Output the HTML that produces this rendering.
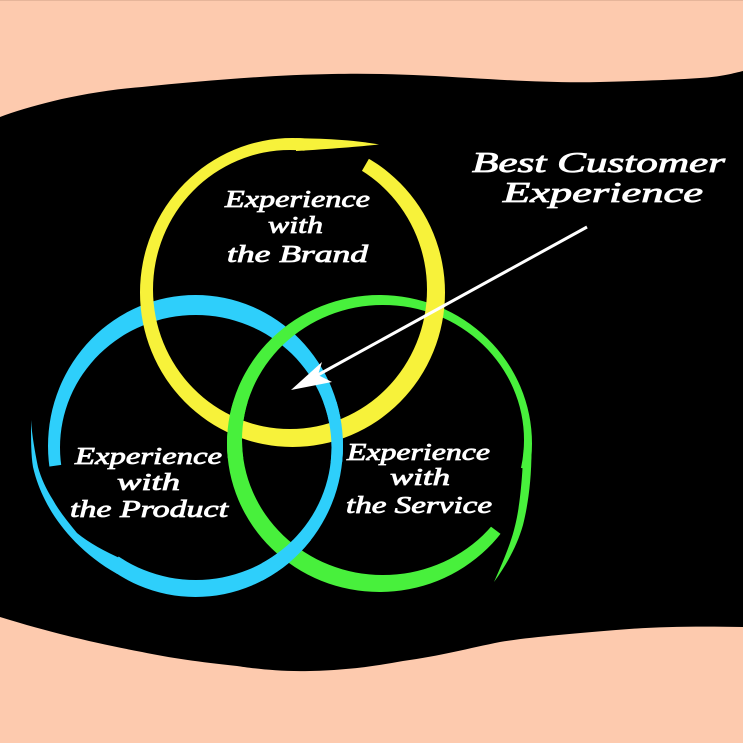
<!DOCTYPE html>
<html><head><meta charset="utf-8"><style>
html,body{margin:0;padding:0;background:#FDCAAE;}
svg{display:block;}
text{font-family:"Liberation Serif",serif;font-style:italic;fill:#fff;stroke:#fff;stroke-width:0.8;}
</style></head><body>
<svg width="743" height="743" viewBox="0 0 743 743" xmlns="http://www.w3.org/2000/svg">
<defs>
  <clipPath id="cGap"><polygon points="196,446 -51.6,480.8 -100,-100 800,-100 800,800 52.6,650.8"/></clipPath>
  <clipPath id="yGap"><polygon points="292,292 326.9,-106.5 -100,-107 -100,900 900,900 900,-54.4 492,-54.4"/></clipPath>
  <clipPath id="gGap"><polygon points="380,443 773.9,512.5 1000,512.5 1000,-200 -200,-200 -200,1000 1000,1000 699.4,683.7"/></clipPath>
  <clipPath id="r1"><rect x="318" y="402" width="36" height="60"/></clipPath>
  <clipPath id="r2"><rect x="262" y="540" width="50" height="58"/></clipPath>
  <clipPath id="r3"><rect x="216" y="402" width="42" height="56"/></clipPath>

  <g id="cyan">
    <path clip-path="url(#cGap)" fill="#2ECFFB" fill-rule="evenodd" d="M48,446 A147.5,151 0 1,0 343,446 A147.5,151 0 1,0 48,446 Z M60,447.5 A135.75,132.5 0 1,0 331.5,447.5 A135.75,132.5 0 1,0 60,447.5 Z"/>
    <path fill="#2ECFFB" d="M31,420 C31,440 31,455 33,467 C36,480 40,490 45,500 C57,524 80,553 117.3,574 L123.8,559.9 C104,551 89,543 77,533 C68,522 59,511 53,500 C46,489 41,478 38,467 C35,452 32,436 31,420 Z"/>
  </g>
  <g id="green">
    <path clip-path="url(#gGap)" fill="#48F03C" fill-rule="evenodd" d="M227,443.5 A152.5,148.5 0 1,0 532,443.5 A152.5,148.5 0 1,0 227,443.5 Z M242,440 A141,135 0 1,0 524,440 A141,135 0 1,0 242,440 Z"/>
    <path fill="#48F03C" d="M531.5,450 C531.5,480 528,505 523,525 C517,546 507,564 494,582 C503,562 510,545 514,530 C518,515 521.5,495 523.5,450 Z"/>
  </g>
  <g id="yellow">
    <path clip-path="url(#yGap)" fill="#F7F23A" fill-rule="evenodd" d="M140,292.5 A152.5,154.5 0 1,0 445,292.5 A152.5,154.5 0 1,0 140,292.5 Z M153,289.5 A137,139.5 0 1,0 427,289.5 A137,139.5 0 1,0 153,289.5 Z"/>
    <path fill="#F7F23A" d="M296,138.2 C320,138.3 352,139.5 379,144.5 C360,146.5 330,149 296,151 Z"/>
  </g>
</defs>

<rect x="0" y="0" width="743" height="743" fill="#FDCAAE"/>
<rect x="0" y="0" width="743" height="1" fill="#E6B59A"/>

<path fill="#000" d="M0,117 C30,106 80,92 142,87 C200,81 270,75 332,74 C380,73 420,75 470,78 C520,81 560,83 600,82 C640,81 670,80 700,78 C720,77 735,73 743,71 L743,627 C690,626 650,627 616,630 C570,634 530,637 500,642 C470,648 440,656 403,661 C370,667 345,670 310,671 C280,672 250,668 237,666 C200,662 170,658 142,652 C100,644 55,634 0,617 Z"/>

<use href="#cyan"/>
<use href="#green"/>
<use href="#yellow"/>
<g clip-path="url(#r1)"><use href="#cyan"/></g>
<g clip-path="url(#r2)"><use href="#cyan"/></g>
<g clip-path="url(#r3)"><use href="#green"/></g>

<!-- arrow -->
<line x1="587" y1="227" x2="316" y2="376" stroke="#fff" stroke-width="3"/>
<polygon points="291,390 322,362 318,375 332,382" fill="#fff"/>

<!-- texts -->
<g font-size="24">
  <text x="225" y="207" textLength="145" lengthAdjust="spacingAndGlyphs">Experience</text>
  <text x="268" y="233" textLength="55" lengthAdjust="spacingAndGlyphs">with</text>
  <text x="227" y="262" textLength="141" lengthAdjust="spacingAndGlyphs">the Brand</text>

  <text x="75" y="464" textLength="147" lengthAdjust="spacingAndGlyphs">Experience</text>
  <text x="117" y="490" textLength="63" lengthAdjust="spacingAndGlyphs">with</text>
  <text x="70" y="517" textLength="158" lengthAdjust="spacingAndGlyphs">the Product</text>

  <text x="347" y="460" textLength="143" lengthAdjust="spacingAndGlyphs">Experience</text>
  <text x="390" y="485" textLength="60" lengthAdjust="spacingAndGlyphs">with</text>
  <text x="346" y="513" textLength="146" lengthAdjust="spacingAndGlyphs">the Service</text>
</g>
<g font-size="28">
  <text x="472" y="172" textLength="253" lengthAdjust="spacingAndGlyphs">Best Customer</text>
  <text x="503" y="202" textLength="200" lengthAdjust="spacingAndGlyphs">Experience</text>
</g>
</svg>
</body></html>
